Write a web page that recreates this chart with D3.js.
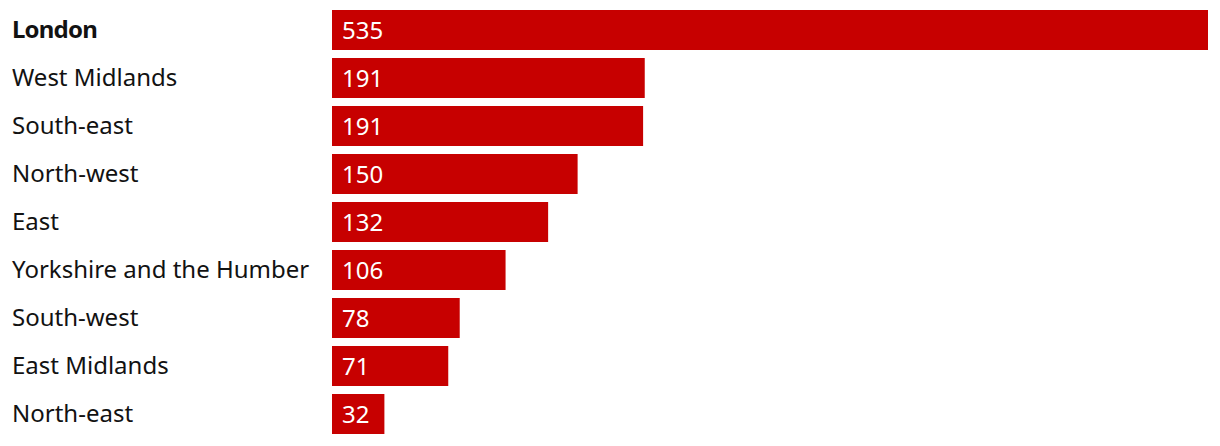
<!DOCTYPE html>
<html><head><meta charset="utf-8">
<script src="https://cdn.jsdelivr.net/npm/d3@7"></script>
<style>body{margin:0;background:#fff}svg{display:block}</style>
</head><body>
<svg id="chart" width="1220" height="446"></svg>
<script>
const regions = ["London","West Midlands","South-east","North-west","East","Yorkshire and the Humber","South-west","East Midlands","North-east"];
const values = [535,191,190,150,132,106,78,71,32];
const valueLabels = ["535","191","191","150","132","106","78","71","32"];

const svg = d3.select("#chart");
const x = d3.scaleLinear().domain([0,535]).range([332,1208]);
const y = d3.scaleBand().domain(regions).range([10,434]).paddingInner(1/6).paddingOuter(0);
const font = "'Noto Sans', sans-serif";

svg.selectAll("rect.bar").data(regions).join("rect")
  .attr("class","bar")
  .attr("x", x(0))
  .attr("y", d=>y(d))
  .attr("width", (d,i)=>x(values[i])-x(0))
  .attr("height", y.bandwidth())
  .attr("fill","#c70000");

svg.selectAll("text.lab").data(regions).join("text")
  .attr("class","lab")
  .attr("x", 12)
  .attr("y", d=>y(d)+y.bandwidth()/2)
  .attr("dy","0.35em")
  .attr("font-family", font)
  .attr("font-size", 24)
  .attr("font-weight", (d,i)=> i===0 ? 700 : 400)
  .attr("letter-spacing", (d,i)=> i===0 ? "-0.8px" : "0")
  .attr("fill","#121212")
  .text(d=>d);

svg.selectAll("text.val").data(regions).join("text")
  .attr("class","val")
  .attr("x", x(0)+10)
  .attr("y", d=>y(d)+y.bandwidth()/2)
  .attr("dy","0.38em")
  .attr("font-family", font)
  .attr("font-size", 24)
  .attr("fill","#fff")
  .text((d,i)=>valueLabels[i]);
</script>
</body></html>
